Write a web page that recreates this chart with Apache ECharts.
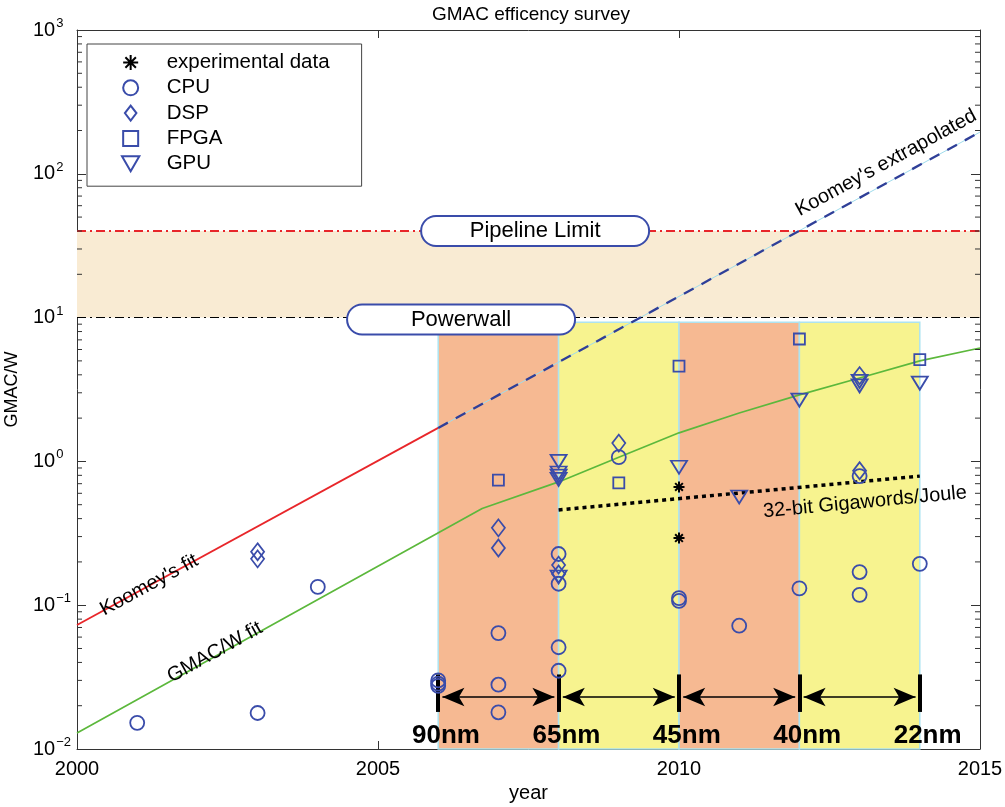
<!DOCTYPE html>
<html><head><meta charset="utf-8">
<script src="https://cdn.jsdelivr.net/npm/echarts@6/dist/echarts.min.js"></script>
<style>html,body{margin:0;padding:0;background:#fff}#c{width:1005px;height:807px}</style>
</head><body><div id="c"></div>
<script>
const FONT = '"Liberation Sans", Arial, Helvetica, sans-serif';

// ---------------- data ----------------
const experimental = [[2010, 0.664], [2010, 0.293]];
const cpu = [[2001, 0.0152], [2003, 0.0178], [2004, 0.134], [2006, 0.0300], [2006, 0.0285], [2006, 0.0275],
  [2007, 0.064], [2007, 0.028], [2007, 0.018], [2008, 0.227], [2008, 0.141], [2008, 0.051], [2008, 0.035],
  [2009, 1.07], [2010, 0.112], [2010, 0.107], [2011, 0.072], [2012, 0.131], [2013, 0.170], [2013, 0.118],
  [2013, 0.79], [2014, 0.194]];
const dsp = [[2003, 0.235], [2003, 0.21], [2007, 0.345], [2007, 0.25], [2008, 0.19], [2008, 0.165],
  [2009, 1.34], [2013, 3.95], [2013, 0.86]];
const fpga = [[2007, 0.74], [2009, 0.71], [2010, 4.6], [2012, 7.1], [2014, 5.1]];
const gpu = [[2008, 1.0], [2008, 0.83], [2008, 0.79], [2008, 0.75], [2008, 0.157], [2010, 0.91],
  [2011, 0.565], [2012, 2.67], [2013, 3.6], [2013, 3.35], [2014, 3.5]];

const koomeyFit = [[2000, 0.0729], [2006, 1.71]];
const koomeyExtrapolated = [[2006, 1.71], [2015, 195]];
const gmacFit = [[2000, 0.0129], [2006.73, 0.47], [2008, 0.72], [2009, 1.07], [2010, 1.58], [2011, 2.17],
  [2012, 2.9], [2013, 3.8], [2014, 5.0], [2015, 6.15]];
const gigawords = [[2008, 0.46], [2014, 0.79]];

const pipelineLimit = 40;
const powerwall = 10;
const columnTop = 9.3;
const nodeYears = [2006, 2008, 2010, 2012, 2014];
const nodeLabels = ['90nm', '65nm', '45nm', '40nm', '22nm'];
const xTicks = [2000, 2005, 2010, 2015];
const decades = [0.01, 0.1, 1, 10, 100];
const minorMultipliers = [2, 3, 4, 5, 6, 7, 8, 9];

// ---------------- styles ----------------
const BLUE = '#3a4caa';
const ORANGE = '#f6b992';
const YELLOW = '#f7f38f';
const CYAN = '#ade3f0';
const BAND = '#f9ebd3';

const P_DIAMOND = 'path://M5,0L10,6.5L5,13L0,6.5Z';
const P_SQUARE = 'path://M0,0L10,0L10,10L0,10Z';
const P_TRI = 'path://M0,0L10,0L5,8.66Z';
const P_AST = 'path://M5,0L5,10M0,5L10,5M1.5,1.5L8.5,8.5M1.5,8.5L8.5,1.5';

const hollow = { color: 'rgba(0,0,0,0)', borderColor: BLUE, borderWidth: 1.8, opacity: 1 };

const minorVals = [];
decades.forEach(d => minorMultipliers.forEach(m => minorVals.push([2000, d * m])));

// annotation anchor points (data coordinates)
const nodeTickLow = 0.0181, nodeTickHigh = 0.0330, arrowLevel = 0.023, nodeLabelLevel = 0.0123;
const arrowInset = 0.07, nodeLabelShift = 0.13;

const arrowLines = [];
for (let i = 0; i < nodeYears.length - 1; i++) {
  arrowLines.push([{ coord: [nodeYears[i] + arrowInset, arrowLevel] }, { coord: [nodeYears[i + 1] - arrowInset, arrowLevel] }]);
}
const nodeTicks = nodeYears.map(y => [{ coord: [y, nodeTickHigh] }, { coord: [y, nodeTickLow] }]);

const columns = [];
for (let i = 0; i < nodeYears.length - 1; i++) {
  columns.push([{ coord: [nodeYears[i], 0.01], itemStyle: { color: i % 2 === 0 ? ORANGE : YELLOW } },
                { coord: [nodeYears[i + 1], columnTop] }]);
}

const plainLabel = { color: '#000', fontFamily: FONT, textBorderWidth: 0, textBorderColor: 'transparent', textShadowBlur: 0 };
const rotText = (txt, x, y, rot, extra) => ({
  value: [x, y],
  label: Object.assign({ show: true, position: 'inside', formatter: txt, rotate: rot, fontSize: 20 }, plainLabel, extra || {})
});
const boxText = (txt, x, y) => ({
  value: [x, y],
  label: Object.assign({
    show: true, position: 'inside', formatter: txt, fontSize: 22,
    backgroundColor: '#ffffff', borderColor: BLUE, borderWidth: 2, borderRadius: 15,
    width: 226, height: 26, lineHeight: 26, align: 'center', verticalAlign: 'middle', padding: [1, 0, 1, 0]
  }, plainLabel)
});

const annotations = [
  rotText("Koomey's fit", 2001.2, 0.138, 28.6),
  rotText('GMAC/W fit', 2002.29, 0.047, 29),
  rotText("Koomey's extrapolated", 2013.44, 119, 28.6),
  rotText('32-bit Gigawords/Joule', 2013.09, 0.52, 5.4),
  boxText('Pipeline Limit', 2007.61, pipelineLimit),
  boxText('Powerwall', 2006.38, 9.7)
].concat(nodeYears.map((y, i) => rotText(nodeLabels[i], y + nodeLabelShift, nodeLabelLevel, 0, { fontSize: 26, fontWeight: 'bold' })));

const chart = echarts.init(document.getElementById('c'), null, { renderer: 'canvas' });
const axisLineStyle = { color: '#333', width: 1 };

const option = {
  animation: false,
  backgroundColor: '#fff',
  textStyle: { fontFamily: FONT },
  title: {
    text: 'GMAC efficency survey', left: 531, top: 5, textAlign: 'center', padding: 0,
    textStyle: { fontSize: 19, fontWeight: 'normal', color: '#000', fontFamily: FONT }
  },
  legend: {
    orient: 'vertical', left: 87, top: 44, padding: [8, 32, 12, 34],
    itemWidth: 62, itemHeight: 15, itemGap: 4.3, selectedMode: false,
    borderColor: '#444', borderWidth: 1, backgroundColor: '#fff',
    textStyle: { fontSize: 20.5, color: '#000', fontFamily: FONT, lineHeight: 19 },
    data: [
      { name: 'experimental data', icon: P_AST },
      { name: 'CPU', icon: 'circle' },
      { name: 'DSP', icon: P_DIAMOND },
      { name: 'FPGA', icon: P_SQUARE },
      { name: 'GPU', icon: P_TRI }
    ]
  },
  grid: { left: 77, right: 25, top: 30, bottom: 58, containLabel: false, outerBoundsMode: 'none' },
  xAxis: [{
    type: 'value', min: 2000, max: 2015, interval: 5, position: 'bottom',
    name: 'year', nameLocation: 'middle', nameGap: 31,
    nameTextStyle: { fontSize: 20, color: '#000', fontFamily: FONT },
    axisLine: { show: true, onZero: false, lineStyle: axisLineStyle },
    axisTick: { show: true, inside: true, length: 8, lineStyle: axisLineStyle },
    axisLabel: { fontSize: 20, color: '#000', margin: 10, fontFamily: FONT, formatter: v => xTicks.includes(v) ? String(v) : '' },
    splitLine: { show: false }
  }, {
    type: 'value', min: 2000, max: 2015, interval: 5, position: 'top',
    axisLine: { show: true, onZero: false, lineStyle: axisLineStyle },
    axisTick: { show: true, inside: true, length: 8, lineStyle: axisLineStyle },
    axisLabel: { show: false }, splitLine: { show: false }
  }],
  yAxis: [{
    type: 'log', logBase: 10, min: 0.01, max: 1000, position: 'left',
    name: 'GMAC/W', nameLocation: 'middle', nameGap: 56,
    nameTextStyle: { fontSize: 18, color: '#000', fontFamily: FONT },
    axisLine: { show: true, onZero: false, lineStyle: axisLineStyle },
    axisTick: { show: true, inside: true, length: 9, lineStyle: axisLineStyle },
    axisLabel: {
      margin: 44, align: 'left', color: '#000',
      formatter: v => '{b|10}{s|' + String(Math.round(Math.log10(v))).replace('-', '\u2212') + '}',
      rich: {
        b: { fontSize: 20, fontFamily: FONT, color: '#000' },
        s: { fontSize: 13, fontFamily: FONT, color: '#000', padding: [0, 0, 13, 1] }
      }
    },
    splitLine: { show: false }
  }, {
    type: 'log', logBase: 10, min: 0.01, max: 1000, position: 'right',
    axisLine: { show: true, onZero: false, lineStyle: axisLineStyle },
    axisTick: { show: true, inside: true, length: 9, lineStyle: axisLineStyle },
    axisLabel: { show: false }, splitLine: { show: false }
  }],
  series: [
    { // background regions and reference lines
      type: 'line', name: 'regions', data: [], z: 1, silent: true,
      markArea: {
        silent: true,
        itemStyle: { borderColor: CYAN, borderWidth: 1.5, opacity: 1 },
        data: [[{ coord: [2000, powerwall], itemStyle: { color: BAND, borderWidth: 0 } }, { coord: [2015, pipelineLimit] }]].concat(columns)
      },
      markLine: {
        silent: true, symbol: 'none', label: { show: false },
        data: [
          { yAxis: pipelineLimit, lineStyle: { color: '#e8262a', width: 1.8, type: [9, 4, 2, 4] } },
          { yAxis: powerwall, lineStyle: { color: '#000', width: 1.1, type: [9, 4, 2, 4] } }
        ]
      }
    },
    { type: 'line', name: 'koomeyFit', data: koomeyFit, symbol: 'none', z: 3, lineStyle: { color: '#e8262a', width: 1.8 } },
    { type: 'line', name: 'koomeyExtThin', data: koomeyExtrapolated, symbol: 'none', z: 3, lineStyle: { color: '#9fdcec', width: 1 } },
    { type: 'line', name: 'koomeyExt', data: koomeyExtrapolated, symbol: 'none', z: 3, lineStyle: { color: '#2f3f98', width: 2.3, type: [11, 9] } },
    { type: 'line', name: 'gmacFit', data: gmacFit, symbol: 'none', z: 3, lineStyle: { color: '#5cb83c', width: 1.7 } },
    { type: 'line', name: 'gigawords', data: gigawords, symbol: 'none', z: 3, lineStyle: { color: '#000', width: 3.5, type: [4, 4] } },
    { // process node markers
      type: 'line', name: 'nodes', data: [], z: 4, silent: true,
      markLine: {
        silent: true, label: { show: false }, animation: false,
        data: nodeTicks.map(d => [Object.assign({}, d[0], { symbol: 'none', lineStyle: { color: '#000', width: 4, type: 'solid' } }), Object.assign({}, d[1], { symbol: 'none' })])
          .concat(arrowLines.map(d => [Object.assign({}, d[0], { symbol: 'arrow', symbolSize: [14, 22], lineStyle: { color: '#000', width: 1.5, type: 'solid' } }), Object.assign({}, d[1], { symbol: 'arrow', symbolSize: [14, 22] })]))
      }
    },
    { type: 'scatter', name: 'experimental data', data: experimental, z: 5, symbol: P_AST, symbolSize: 11, itemStyle: { color: '#000', borderColor: '#000', borderWidth: 2, opacity: 1 } },
    { type: 'scatter', name: 'CPU', data: cpu, z: 5, symbol: 'circle', symbolSize: 14, itemStyle: hollow },
    { type: 'scatter', name: 'DSP', data: dsp, z: 5, symbol: P_DIAMOND, symbolSize: [13, 17], itemStyle: hollow },
    { type: 'scatter', name: 'FPGA', data: fpga, z: 5, symbol: P_SQUARE, symbolSize: 11, itemStyle: hollow },
    { type: 'scatter', name: 'GPU', data: gpu, z: 5, symbol: P_TRI, symbolSize: [16, 13], itemStyle: hollow },
    { type: 'scatter', name: 'annotations', data: annotations, z: 6, symbolSize: 0, silent: true, itemStyle: { opacity: 1 } },
    { // log minor ticks on both vertical sides
      type: 'custom', name: 'minorTicks', data: minorVals, z: 7, silent: true, clip: false,
      renderItem: (params, api) => {
        const v = api.value(1);
        const L = api.coord([2000, v]);
        const R = api.coord([2015, v]);
        return {
          type: 'group', children: [
            { type: 'line', shape: { x1: L[0], y1: L[1], x2: L[0] + 5, y2: L[1] }, style: { stroke: '#333', lineWidth: 1 } },
            { type: 'line', shape: { x1: R[0], y1: R[1], x2: R[0] - 5, y2: R[1] }, style: { stroke: '#333', lineWidth: 1 } }
          ]
        };
      }
    }
  ]
};
chart.setOption(option);
</script>
</body></html>
